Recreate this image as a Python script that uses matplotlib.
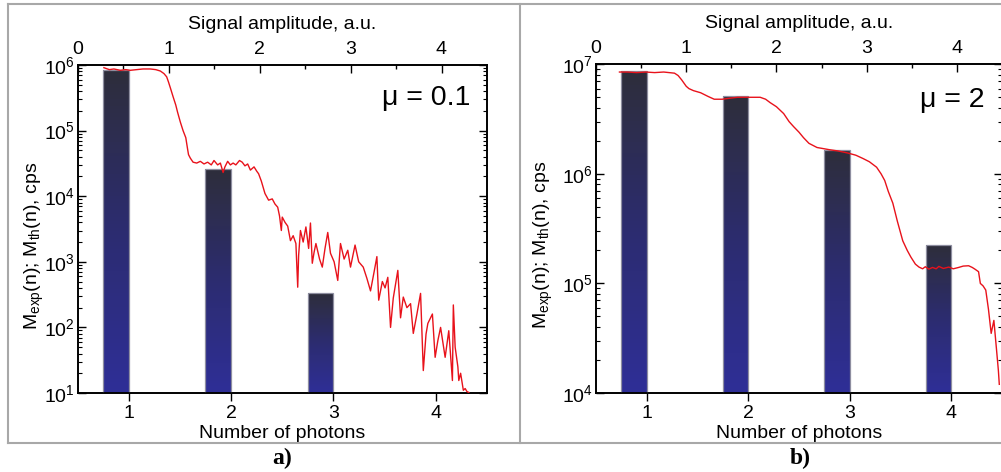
import matplotlib
matplotlib.use("Agg")
import matplotlib.pyplot as plt
from matplotlib.colors import LinearSegmentedColormap
from matplotlib.lines import Line2D
from matplotlib.ticker import FixedLocator, NullFormatter, LogLocator

plt.rcParams["font.family"] = ["Liberation Sans", "DejaVu Sans"]
plt.rcParams["mathtext.fontset"] = "custom"
plt.rcParams["mathtext.rm"] = "Liberation Sans"
plt.rcParams["mathtext.it"] = "Liberation Sans:italic"

# --- a) mu = 0.1 ---
photons_a = [1, 2, 3]
counts_th_a = [8.4e5, 2.6e4, 340]

amp_a = [0.29, 0.35, 0.40, 0.47, 0.53, 0.58, 0.65, 0.72, 0.80, 0.86,
         0.91, 0.95, 0.98, 1.00, 1.02, 1.05, 1.08, 1.10, 1.13, 1.16,
         1.19, 1.21, 1.22, 1.24, 1.27, 1.31, 1.35, 1.39, 1.43, 1.47,
         1.50, 1.54, 1.57, 1.60, 1.62, 1.65, 1.68, 1.71, 1.74, 1.78,
         1.81, 1.84, 1.87, 1.90, 1.94, 1.97, 1.99, 2.02, 2.06, 2.10,
         2.14, 2.17, 2.20, 2.22, 2.24, 2.25, 2.28, 2.31, 2.34, 2.37,
         2.40, 2.42, 2.43, 2.45, 2.48, 2.51, 2.54, 2.56, 2.58, 2.60,
         2.62, 2.66, 2.69, 2.72, 2.75, 2.78, 2.82, 2.86, 2.89, 2.93,
         2.97, 3.00, 3.05, 3.09, 3.14, 3.18, 3.22, 3.26, 3.29, 3.31,
         3.35, 3.38, 3.41, 3.44, 3.47, 3.52, 3.55, 3.58, 3.62, 3.66,
         3.69, 3.73, 3.77, 3.80, 3.83, 3.85, 3.90, 3.93, 3.96, 3.99,
         4.04, 4.08, 4.12, 4.13, 4.15, 4.18, 4.19, 4.21, 4.24, 4.26,
         4.28, 4.30]
counts_exp_a = [9.1e5, 8.5e5, 8.7e5, 8.3e5, 8.5e5, 8.3e5, 8.5e5, 8.7e5, 8.7e5, 8.5e5,
                8.1e5, 7.4e5, 6.6e5, 5.5e5, 4.5e5, 3.3e5, 2.45e5, 1.9e5, 1.35e5, 1.0e5,
                7.8e4, 5.2e4, 4.3e4, 3.8e4, 3.3e4, 3.2e4, 3.4e4, 3.1e4, 3.3e4, 3.0e4,
                3.5e4, 3.0e4, 3.2e4, 2.3e4, 2.8e4, 3.4e4, 3.0e4, 3.2e4, 3.0e4, 3.5e4,
                3.3e4, 2.9e4, 3.1e4, 2.5e4, 2.8e4, 2.4e4, 2.2e4, 1.7e4, 1.1e4, 8.7e3,
                9.1e3, 7.6e3, 6.8e3, 5.0e3, 3.0e3, 4.8e3, 4.0e3, 3.5e3, 2.1e3, 2.5e3,
                1.9e3, 410, 1.26e3, 3.0e3, 2.0e3, 3.4e3, 1.6e3, 3.9e3, 950, 1.4e3,
                1.9e3, 1.1e3, 830, 1.6e3, 2.8e3, 1.35e3, 1.0e3, 520, 1.9e3, 1.1e3,
                1.5e3, 830, 1.8e3, 1.0e3, 830, 560, 360, 710, 1.2e3, 260,
                500, 400, 580, 100, 280, 740, 140, 290, 200, 230,
                81, 160, 330, 22, 79, 115, 160, 35, 63, 100,
                35, 89, 15.5, 220, 50, 25, 15.5, 20, 11, 11.7,
                10.5, 10.2]

# --- b) mu = 2 ---
photons_b = [1, 2, 3, 4]
counts_th_b = [8.7e6, 5.1e6, 1.66e6, 2.24e5]

amp_b = [0.26, 0.35, 0.45, 0.55, 0.65, 0.75, 0.87, 0.91, 0.95, 1.00,
         1.03, 1.08, 1.16, 1.24, 1.31, 1.40, 1.48, 1.57, 1.65, 1.75,
         1.82, 1.88, 1.93, 2.00, 2.08, 2.14, 2.19, 2.25, 2.30, 2.36,
         2.45, 2.52, 2.59, 2.68, 2.79, 2.88, 2.96, 3.03, 3.11, 3.16,
         3.20, 3.24, 3.29, 3.34, 3.40, 3.45, 3.49, 3.54, 3.58, 3.62,
         3.65, 3.69, 3.73, 3.77, 3.80, 3.85, 3.91, 3.96, 4.02, 4.07,
         4.13, 4.17, 4.20, 4.24, 4.26, 4.29, 4.32, 4.35, 4.38, 4.41,
         4.44, 4.46, 4.47]
counts_exp_b = [8.5e6, 8.5e6, 8.4e6, 8.5e6, 8.4e6, 8.5e6, 8.3e6, 7.9e6, 7.2e6, 6.3e6,
                6.0e6, 5.75e6, 5.5e6, 5.1e6, 4.8e6, 4.8e6, 4.9e6, 5.0e6, 5.0e6, 5.0e6,
                5.0e6, 4.8e6, 4.47e6, 4.1e6, 3.55e6, 3.0e6, 2.7e6, 2.4e6, 2.14e6, 1.9e6,
                1.74e6, 1.7e6, 1.66e6, 1.62e6, 1.55e6, 1.48e6, 1.38e6, 1.29e6, 1.15e6, 1.0e6,
                8.7e5, 6.9e5, 5.4e5, 3.7e5, 2.45e5, 2.0e5, 1.74e5, 1.5e5, 1.41e5, 1.36e5,
                1.42e5, 1.35e5, 1.40e5, 1.36e5, 1.43e5, 1.37e5, 1.41e5, 1.36e5, 1.40e5, 1.44e5,
                1.45e5, 1.40e5, 1.35e5, 1.28e5, 1.0e5, 9.5e4, 8.7e4, 5.8e4, 3.5e4, 4.6e4,
                2.45e4, 1.6e4, 1.2e4]

bar_cmap = LinearSegmentedColormap.from_list("bar", ["#2e2e96", "#2c2c70", "#2d2d3b"])

W, H = 1001, 472
fig = plt.figure(figsize=(W / 100, H / 100), dpi=100)


def px_axes(x0, y0, x1, y1):
    return fig.add_axes([x0 / W, 1 - y1 / H, (x1 - x0) / W, (y1 - y0) / H])


def gradient_bars(ax, n, counts, ymin, steps=90):
    for xi, top in zip(n, counts):
        lows, highs, cols = [], [], []
        for k in range(steps):
            lo = ymin * (top / ymin) ** (k / steps)
            hi = ymin * (top / ymin) ** ((k + 1) / steps)
            lows.append(lo)
            highs.append(hi - lo)
            cols.append(bar_cmap(k / (steps - 1)))
        ax.bar([xi - 0.25] * steps, highs, bottom=lows, width=0.25, align="edge",
               color=cols, linewidth=0, antialiased=False, zorder=2)
        ax.bar(xi - 0.25, top - ymin, bottom=ymin, width=0.25, align="edge",
               fill=False, edgecolor="#8e8ea0", linewidth=0.9, zorder=3)


def panel(box, n, counts_th, amp, counts_exp, ylim, ylabel_x,
          mu_text, mu_xy, letter, letter_x):
    ax = px_axes(*box)
    ax.set_yscale("log")
    ax.set_ylim(*ylim)
    ax.set_xlim(0.5, 4.5)
    gradient_bars(ax, n, counts_th, ylim[0])
    ax.xaxis.set_major_locator(FixedLocator([1, 2, 3, 4]))
    ax.yaxis.set_major_locator(LogLocator(base=10))
    ax.yaxis.set_minor_locator(LogLocator(base=10, subs=range(2, 10)))
    ax.yaxis.set_minor_formatter(NullFormatter())
    ax.tick_params(axis="x", which="both", direction="out", length=6, width=1,
                   labelsize=14, pad=3, top=False)
    ax.tick_params(axis="y", which="major", direction="in", length=6, width=1,
                   labelsize=14, pad=2, right=True)
    ax.tick_params(axis="y", which="minor", direction="in", length=3, width=0.8, right=True)
    ax.set_xlabel("Number of photons", fontsize=14, labelpad=2)
    ax.set_ylabel(r"M$_{\mathrm{exp}}$(n); M$_{\mathrm{th}}$(n), cps", fontsize=14)
    ax.yaxis.set_label_coords(ylabel_x, 0.45)

    top = ax.twiny()
    top.set_xlim(0, 4.5)
    top.plot(amp, counts_exp, color="#e8121b", linewidth=1.0, zorder=4)
    top.xaxis.set_major_locator(FixedLocator([0, 1, 2, 3, 4]))
    top.xaxis.set_minor_locator(FixedLocator([0.5, 1.5, 2.5, 3.5]))
    top.tick_params(axis="x", which="major", direction="in", length=6, width=1,
                    labelsize=14, pad=5)
    top.tick_params(axis="x", which="minor", direction="in", length=3, width=1)
    top.set_xlabel("Signal amplitude, a.u.", fontsize=14, labelpad=9)

    for a in (ax, top):
        for s in a.spines.values():
            s.set_linewidth(1.2)

    top.text(mu_xy[0] / W, 1 - mu_xy[1] / H, mu_text, transform=fig.transFigure,
             fontsize=20.5, ha="right", va="center")
    fig.text(letter_x / W, 1 - 458 / H, letter, family="Liberation Serif",
             fontweight="bold", fontsize=17, ha="center", va="center")
    return ax


panel((77.5, 65, 487, 393), photons_a, counts_th_a, amp_a, counts_exp_a,
      (10, 1e6), -0.076, "μ = 0.1", (470, 98), "a)", 282)
panel((596, 64.3, 1002, 393), photons_b, counts_th_b, amp_b, counts_exp_b,
      (1e4, 1e7), -0.101, "μ = 2", (984, 100), "b)", 800)

# light grey frames around the two panels
frame = dict(color="#a8a8a8", linewidth=1.5, transform=fig.transFigure)
for (xa, ya, xb, yb) in [(8, 4, 1001, 4), (8, 443, 1001, 443),
                         (8, 4, 8, 443), (520, 4, 520, 443)]:
    fig.add_artist(Line2D([xa / W, xb / W], [1 - ya / H, 1 - yb / H], **frame))

fig.savefig("out.png", dpi=100)
